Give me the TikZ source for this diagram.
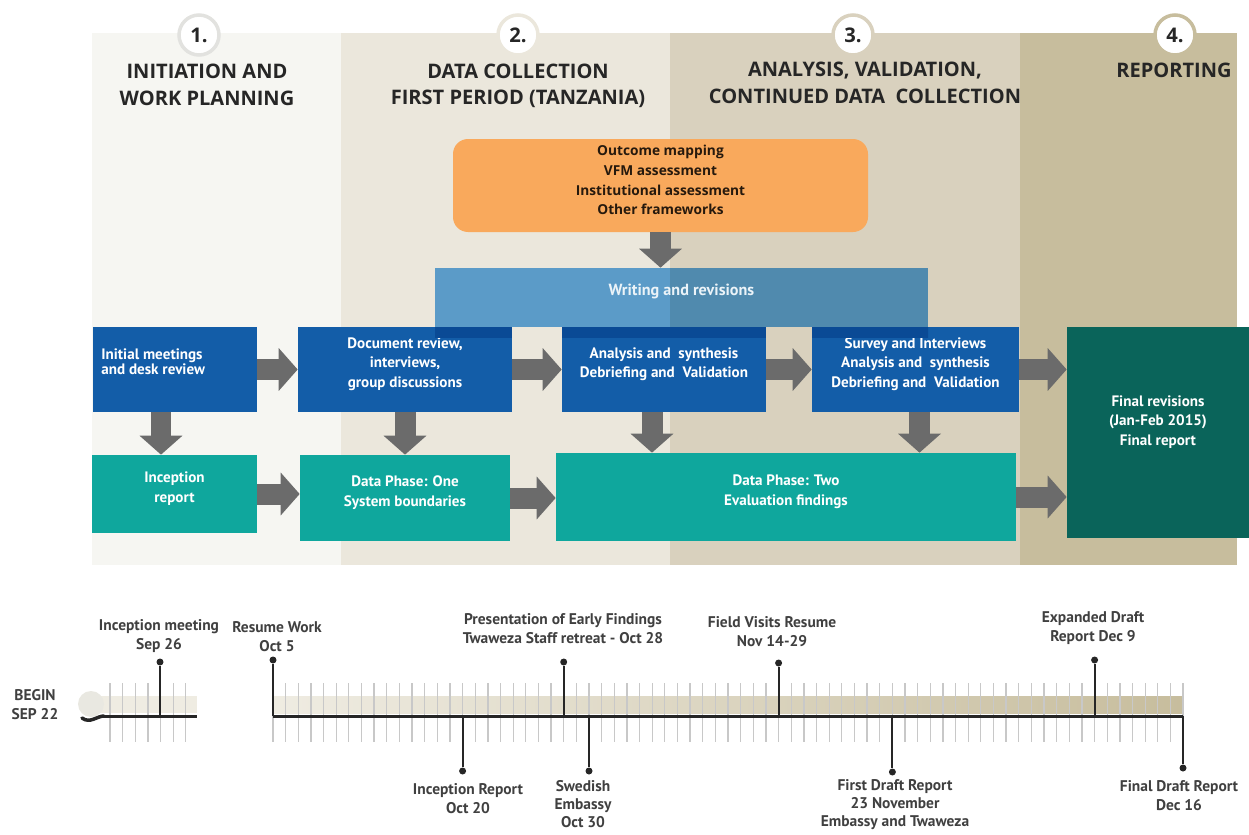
\documentclass[tikz,border=0pt]{standalone}
\usepackage{fontspec}
\setmainfont{PT Sans}
\newfontfamily\headfont{Open Sans}
\usepackage{tikz}
\definecolor{phaseOne}{HTML}{F6F6F2}
\definecolor{phaseTwo}{HTML}{EBE7DC}
\definecolor{phaseThree}{HTML}{D9D1BE}
\definecolor{phaseFour}{HTML}{C7BD9D}
\definecolor{boxBlue}{HTML}{135DA8}
\definecolor{boxBlueDarker}{HTML}{0A4A95}
\definecolor{writeBlue}{HTML}{5B9BC8}
\definecolor{writeBlueDarker}{HTML}{508AAE}
\definecolor{boxTeal}{HTML}{0FA79D}
\definecolor{boxGreen}{HTML}{0A645A}
\definecolor{boxOrange}{HTML}{F9A95C}
\definecolor{arrowGray}{HTML}{6B6B6B}
\definecolor{tickGray}{HTML}{C8C8C8}
\definecolor{bandLight}{HTML}{EFECE2}
\definecolor{bandCap}{HTML}{E9E8E1}
\colorlet{inkDark}{black!85}
\usetikzlibrary{arrows.meta}
\usetikzlibrary{fit}
\usetikzlibrary{calc}

\begin{document}
\begin{tikzpicture}[x=0.02cm, y=-0.02cm,
  header/.style={font=\headfont\bfseries\fontsize{11.4}{15}\selectfont, align=center, text=inkDark},
  numcircle/.style={circle, fill=white, line width=0.07cm, minimum size=0.8cm, inner sep=0pt, font=\headfont\bfseries\fontsize{11.5}{14}\selectfont, text=inkDark},
  box/.style={inner sep=0pt, text=white, align=center, font=\bfseries\fontsize{8.6}{11.1}\selectfont},
  bluebox/.style={box, fill=boxBlue},
  tealbox/.style={box, fill=boxTeal},
  blockarrow/.style={arrowGray, line width=0.42cm, -{Triangle[length=0.38cm, width=0.86cm, line width=0pt]}},
  tick/.style={tickGray, line width=0.026cm},
  axisline/.style={inkDark, line width=0.06cm},
  pinline/.style={inkDark, line width=0.04cm},
  pindot/.style={circle, fill=inkDark, inner sep=0pt, minimum size=0.14cm},
  evtext/.style={font=\bfseries\fontsize{8.8}{10.8}\selectfont, align=center, text=black!75, inner sep=0pt}]
  \useasboundingbox (0,0) rectangle (1249,835);

  % phase columns
  \fill[phaseOne] (92,33) rectangle (341,565);
  \fill[phaseTwo] (341,33) rectangle (670,565);
  \fill[phaseThree] (670,33) rectangle (1020,565);
  \fill[phaseFour] (1020,33) rectangle (1237,565);

  \node[numcircle, draw=phaseOne!92!black] (n1) at (199,35) {1.};
  \node[numcircle, draw=phaseTwo] (n2) at (518,35) {2.};
  \node[numcircle, draw=phaseThree] (n3) at (853,35) {3.};
  \node[numcircle, draw=phaseFour] (n4) at (1175,35) {4.};

  \node[header] (h1) at (207,85) {INITIATION AND\\WORK PLANNING};
  \node[header] (h2) at (518,86) {DATA COLLECTION\\FIRST PERIOD (TANZANIA)};
  \node[header] (h3) at (865,83) {ANALYSIS, VALIDATION,\\CONTINUED DATA\ \ COLLECTION};
  \node[header] (h4) at (1174,70) {REPORTING};

  % frameworks and writing
  \node[box, fill=boxOrange, rounded corners=0.3cm, text=black!80!brown, font=\headfont\bfseries\fontsize{7.8}{11.2}\selectfont, fit={(453,139) (868,232)}] (frame)
    {Outcome mapping\\VFM assessment\\Institutional assessment\\Other frameworks};
  \fill[writeBlue] (435,268) rectangle (670,327);
  \fill[writeBlueDarker] (670,268) rectangle (928,327);
  \node[box, text=white!88!writeBlue, font=\bfseries\fontsize{9.2}{11.1}\selectfont, fit={(435,268) (928,327)}] (writing) {Writing and revisions};
  \draw[blockarrow] (frame.south) -- (frame.south |- writing.north);

  % work boxes
  \node[bluebox, fit={(93,327) (257,412)}] (b1) {};
  \node[box, anchor=west, align=left, font=\bfseries\fontsize{8.6}{8.8}\selectfont] (b1text) at (101,362) {Initial meetings\\and desk review};
  \node[bluebox, fit={(298,327) (512,412)}] (b2) {Document review,\\interviews,\\group discussions};
  \node[bluebox, fit={(562,327) (766,412)}] (b3) {Analysis and\ \ synthesis\\Debriefing and\ \ Validation};
  \node[bluebox, fit={(812,327) (1019,412)}] (b4) {Survey and Interviews\\Analysis and\ \ synthesis\\Debriefing and\ \ Validation};
  \begin{scope}
    \clip (435,327) rectangle (928,337);
    \foreach \b in {b2,b3,b4}
      \fill[boxBlueDarker] (\b.north west) rectangle (\b.south east);
  \end{scope}
  \node[box, fill=boxGreen, fit={(1067,327) (1249,538)}] (fin) {};
  \node[box] (fintext) at (1158,422) {Final revisions\\(Jan-Feb 2015)\\Final report};

  \node[tealbox, fit={(92,455) (257,533)}] (t1) {Inception\\report};
  \node[tealbox, fit={(300,455) (510,541)}] (t2) {Data Phase: One\\System boundaries};
  \node[tealbox, fit={(556,453) (1016,541)}] (t3) {Data Phase: Two\\Evaluation findings};

  \draw[blockarrow] (b1.east) -- (b2.west);
  \draw[blockarrow] (b2.east) -- (b3.west);
  \draw[blockarrow] (b3.east) -- (b4.west);
  \draw[blockarrow] (b4.east) -- (b4.east -| fin.west);
  \draw[blockarrow] (t1.east) -- (t1.east -| t2.west);
  \draw[blockarrow] (t2.east) -- (t2.east -| t3.west);
  \draw[blockarrow] (t3.east) -- (t3.east -| fin.west);
  \draw[blockarrow] ($(b1.south)+(-14,0)$) -- ($(b1.south |- t1.north)+(-14,0)$);
  \draw[blockarrow] (b2.south) -- (b2.south |- t2.north);
  \draw[blockarrow] ($(b3.south)+(-12,0)$) -- ($(b3.south |- t3.north)+(-12,0)$);
  \draw[blockarrow] ($(b4.south)+(4,0)$) -- ($(b4.south |- t3.north)+(4,0)$);

  % timeline, one tick per day
  \node[evtext] (begin) at (35,705) {BEGIN\\SEP 22};
  \fill[bandLight] (92,696) rectangle (197,713);
  \fill[bandCap] (91,704) circle [radius=13];
  \foreach \k in {0,...,6}
    \draw[tick] ({110+12.64*\k},683) -- ({110+12.64*\k},742);
  \draw[axisline] (103,716) -- (197,716);
  \draw[axisline, line width=0.07cm, line cap=round] (82,718) .. controls (90,724) and (97,716) .. (104,716);

  \shade[left color=bandLight, right color=phaseFour] (273,696) rectangle (1183,713);
  \foreach \k in {0,...,72}
    \draw[tick] ({273+12.64*\k},683) -- ({273+12.64*\k},742);
  \draw[axisline] (273,716) -- (1183,716);

  % events above
  \coordinate (a-sep26) at (160,716);
  \node[pindot] (d-sep26) at (160,662) {};
  \draw[pinline] (a-sep26) -- (d-sep26);
  \node[evtext, anchor=south] (l-sep26) at (159,653) {Inception meeting\\Sep 26};

  \coordinate (a-oct5) at (273,716);
  \node[pindot] (d-oct5) at (273,660) {};
  \draw[pinline] (a-oct5) -- (d-oct5);
  \node[evtext, anchor=south] (l-oct5) at (277,652) {Resume Work\\Oct 5};

  \coordinate (a-oct28) at (563.7,716);
  \node[pindot] (d-oct28) at (563.7,662) {};
  \draw[pinline] (a-oct28) -- (d-oct28);
  \node[evtext, anchor=south] (l-oct28) at (563,644) {Presentation of Early Findings\\Twaweza Staff retreat - Oct 28};

  \coordinate (a-nov14) at (778.6,716);
  \node[pindot] (d-nov14) at (778.6,663) {};
  \draw[pinline] (a-nov14) -- (d-nov14);
  \node[evtext, anchor=south] (l-nov14) at (772,647) {Field Visits Resume\\Nov 14-29};

  \coordinate (a-dec9) at (1094.6,716);
  \node[pindot] (d-dec9) at (1094.6,660) {};
  \draw[pinline] (a-dec9) -- (d-dec9);
  \node[evtext, anchor=south] (l-dec9) at (1093,645) {Expanded Draft\\Report Dec 9};

  % events below
  \coordinate (a-oct20) at (462.6,716);
  \node[pindot] (d-oct20) at (462.6,771) {};
  \draw[pinline] (a-oct20) -- (d-oct20);
  \node[evtext, anchor=north] (l-oct20) at (468,783) {Inception Report\\Oct 20};

  \coordinate (a-oct30) at (589,716);
  \node[pindot] (d-oct30) at (589,771) {};
  \draw[pinline] (a-oct30) -- (d-oct30);
  \node[evtext, anchor=north, font=\bfseries\fontsize{8.8}{10.3}\selectfont] (l-oct30) at (583,780) {Swedish\\Embassy\\Oct 30};

  \coordinate (a-nov23) at (892.4,716);
  \node[pindot] (d-nov23) at (892.4,772) {};
  \draw[pinline] (a-nov23) -- (d-nov23);
  \node[evtext, anchor=north, font=\bfseries\fontsize{8.8}{10.3}\selectfont] (l-nov23) at (895,779) {First Draft Report\\23 November\\Embassy and Twaweza};

  \coordinate (a-dec16) at (1183,716);
  \node[pindot] (d-dec16) at (1183,768) {};
  \draw[pinline] (a-dec16) -- (d-dec16);
  \node[evtext, anchor=north] (l-dec16) at (1179,780) {Final Draft Report\\Dec 16};
\end{tikzpicture}
\end{document}
